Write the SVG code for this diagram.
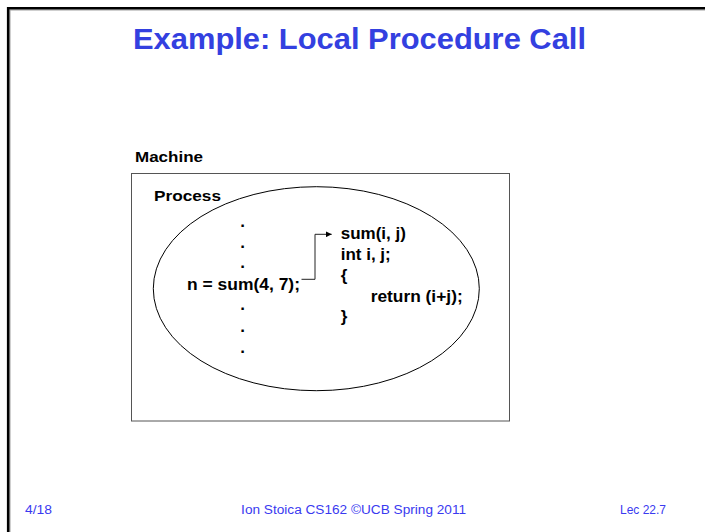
<svg xmlns="http://www.w3.org/2000/svg" width="705" height="532" viewBox="0 0 705 532">
  <style>
    .title { font-family: "Liberation Sans", Arial, sans-serif; font-weight: bold; font-size: 29px; fill: #3340e0; }
    .label { font-family: "Liberation Sans", Arial, sans-serif; font-weight: bold; font-size: 15px; fill: #000; }
    .code { font-family: "Liberation Sans", Arial, sans-serif; font-weight: bold; font-size: 17px; fill: #000; }
    .foot { font-family: "Liberation Sans", Arial, sans-serif; font-size: 12px; fill: #3a3af0; }
    .edge { fill: none; stroke: #222; stroke-width: 1; }
  </style>
  <defs>
    <marker id="arrow" viewBox="0 0 6 6" refX="6" refY="3" markerWidth="6" markerHeight="6" markerUnits="userSpaceOnUse" orient="auto">
      <path d="M0,0 L6,3 L0,6 Z" fill="#000"/>
    </marker>
  </defs>

  <rect width="705" height="532" fill="#fff"/>

  <!-- slide frame -->
  <g id="frame">
    <path d="M10,532 V10 H705" fill="none" stroke="#a0a0a0" stroke-width="1"/>
    <path d="M8.2,532 V8.2 H705" fill="none" stroke="#000" stroke-width="2.6"/>
  </g>

  <text class="title" x="133" y="48.5" textLength="453" lengthAdjust="spacingAndGlyphs">Example: Local Procedure Call</text>

  <!-- machine container -->
  <g id="machine">
    <text class="label" x="135" y="162" textLength="68" lengthAdjust="spacingAndGlyphs">Machine</text>
    <rect x="131.5" y="173.5" width="378" height="247.5" fill="none" stroke="#555" stroke-width="1"/>
  </g>

  <!-- process ellipse -->
  <g id="process">
    <ellipse cx="316.3" cy="288.7" rx="163" ry="102" fill="none" stroke="#000" stroke-width="1"/>
    <text class="label" x="154" y="201" textLength="67" lengthAdjust="spacingAndGlyphs">Process</text>
  </g>

  <!-- caller code -->
  <g id="caller">
    <text class="code" x="242.7" y="227" text-anchor="middle">.</text>
    <text class="code" x="242.7" y="248" text-anchor="middle">.</text>
    <text class="code" x="242.7" y="268" text-anchor="middle">.</text>
    <text class="code" x="187" y="290" textLength="113" lengthAdjust="spacingAndGlyphs">n = sum(4, 7);</text>
    <text class="code" x="242.7" y="310" text-anchor="middle">.</text>
    <text class="code" x="242.7" y="332" text-anchor="middle">.</text>
    <text class="code" x="242.7" y="353" text-anchor="middle">.</text>
  </g>

  <!-- callee code -->
  <g id="callee">
    <text class="code" x="340.7" y="238.5">sum(i, j)</text>
    <text class="code" x="340.7" y="259.5">int i, j;</text>
    <text class="code" x="340.7" y="280.5">{</text>
    <text class="code" x="370.7" y="301.5" textLength="92" lengthAdjust="spacingAndGlyphs">return (i+j);</text>
    <text class="code" x="340.7" y="322">}</text>
  </g>

  <!-- call transfer -->
  <g id="connectors">
    <path class="edge" d="M301.5,279.3 H315 V234.3 H331.7" marker-end="url(#arrow)"/>
  </g>

  <!-- footer -->
  <g id="footer">
    <text class="foot" x="25" y="514" textLength="27" lengthAdjust="spacingAndGlyphs">4/18</text>
    <text class="foot" x="353.6" y="514" text-anchor="middle" textLength="225" lengthAdjust="spacingAndGlyphs">Ion Stoica CS162 ©UCB Spring 2011</text>
    <text class="foot" x="666" y="514" text-anchor="end">Lec 22.7</text>
  </g>
</svg>
